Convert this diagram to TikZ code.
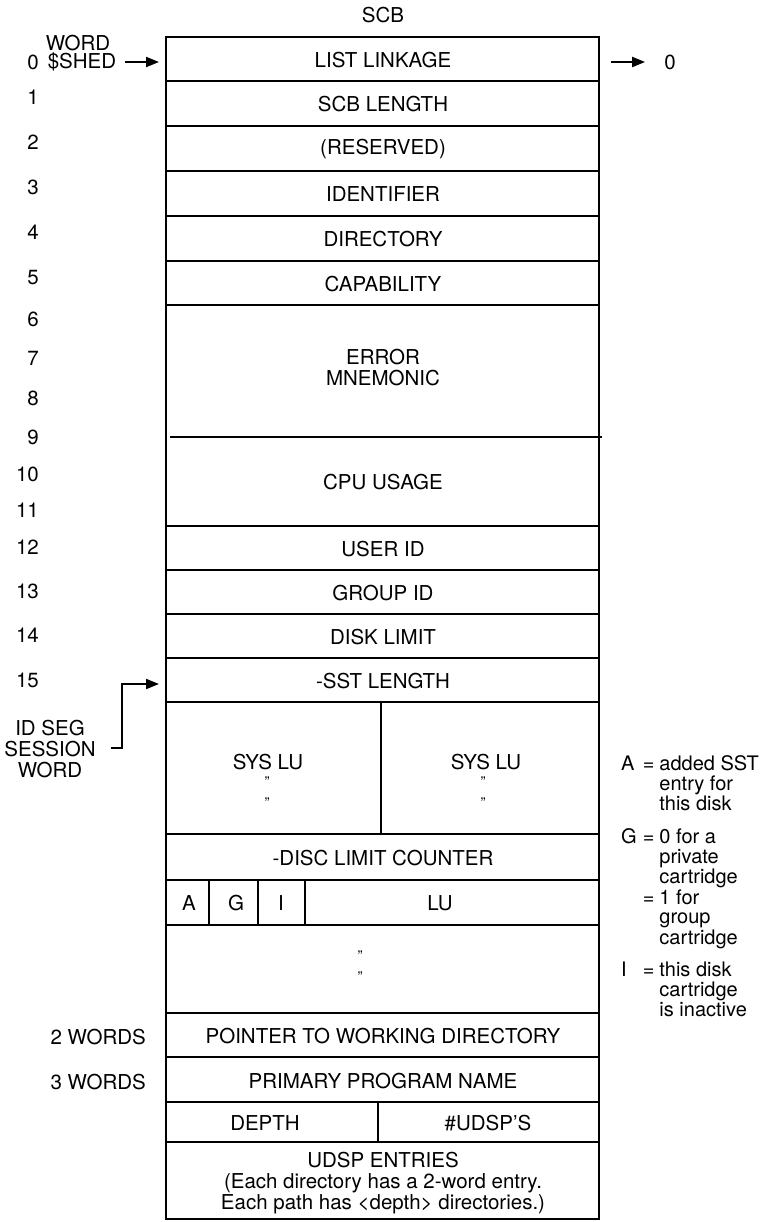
\documentclass[tikz,border=0pt]{standalone}
\usepackage{fontspec}
\setmainfont{TeX Gyre Heros}
\usetikzlibrary{arrows.meta}
\begin{document}
\begin{tikzpicture}[x=1pt,y=-1pt,
  txt/.style={inner sep=0pt,font=\fontsize{20.5}{21}\selectfont},
  multi/.style={txt,align=center},
  ditto/.style={inner sep=0pt,font=\fontsize{15}{15}\selectfont},
  frame/.style={line width=2.1pt},
  sep/.style={line width=2pt},
  arr/.style={line width=2pt,-{Triangle[length=13pt,width=10pt]}}]
\useasboundingbox (0,0) rectangle (766,1222);

% outer frame and separators
\draw[frame] (166,37) rectangle (599,1219);
\foreach \y in {81,126,171,216,261,305,526,570,614,658,702,834,880,925,1013,1057,1102,1142}
  \draw[sep] (166,\y) -- (599,\y);
\draw[sep] (170,437) -- (602,437);
\draw[sep] (381,702) -- (381,834);
\foreach \x in {209,258,305} \draw[sep] (\x,880) -- (\x,925);
\draw[sep] (378,1102) -- (378,1142);

% title
\node[txt] (scb) at (383,15) {SCB};

% field texts
\node[txt] (ll) at (383,60) {LIST LINKAGE};
\node[txt] (len) at (383,104) {SCB LENGTH};
\node[txt] (res) at (383,149) {(RESERVED)};
\node[txt] (ident) at (383,194) {IDENTIFIER};
\node[txt] (dir) at (383,239) {DIRECTORY};
\node[txt] (cap) at (383,284) {CAPABILITY};
\node[multi] (err) at (383,368) {ERROR\\MNEMONIC};
\node[txt] (cpu) at (383,482) {CPU USAGE};
\node[txt] (uid) at (383,549) {USER ID};
\node[txt] (gid) at (383,593) {GROUP ID};
\node[txt] (dlim) at (383,637) {DISK LIMIT};
\node[txt] (sst) at (383,681) {-SST LENGTH};
\node[txt] (sysl) at (268,762) {SYS LU};
\node[ditto] (sysld1) at (267,782) {”};
\node[ditto] (sysld2) at (267,803) {”};
\node[txt] (sysr) at (486,762) {SYS LU};
\node[ditto] (sysrd1) at (483,782) {”};
\node[ditto] (sysrd2) at (483,803) {”};
\node[txt] (dlc) at (383,858) {-DISC LIMIT COUNTER};
\node[txt] (fa) at (189,903) {A};
\node[txt] (fg) at (236,903) {G};
\node[txt] (fi) at (281,903) {I};
\node[txt] (lu) at (440,903) {LU};
\node[ditto] (lud1) at (360,956) {”};
\node[ditto] (lud2) at (360,977) {”};
\node[txt] (ptr) at (383,1036) {POINTER TO WORKING DIRECTORY};
\node[txt] (ppn) at (383,1081) {PRIMARY PROGRAM NAME};
\node[txt] (depth) at (265,1123) {DEPTH};
\node[txt] (udsps) at (488,1123) {\#UDSP’S};
\node[multi] (udsp) at (383,1183) {UDSP ENTRIES\\(Each directory has a 2-word entry.\\Each path has <depth> directories.)};

% left word numbers
\node[txt] (word) at (78,43) {WORD};
\node[txt,anchor=east] (w0) at (39,62) {0};
\node[txt] (shed) at (82,62) {\$SHED};
\foreach \n/\y in {1/97,2/142,3/187,4/232,5/278,6/319,7/358,8/398,9/437,10/474,11/510,12/547,13/591,14/635,15/680}
  \node[txt,anchor=east] (w\n) at (39,\y) {\n};
\node[txt,anchor=east] (two) at (146,1037) {2 WORDS};
\node[txt,anchor=east] (three) at (146,1082) {3 WORDS};

% right zero
\node[txt] (zero) at (670,62) {0};

% ID SEG label
\node[multi] (idseg) at (50,749) {ID SEG\\SESSION\\WORD};

% connectors
\coordinate (shedin) at (159,62);
\draw[arr] ([xshift=9pt]shed.east) -- (shedin);
\coordinate (llout) at (611,62);
\draw[arr] (llout) -- ([xshift=-19pt]zero.west);
\coordinate (idsegout) at (111,748);
\coordinate (sstin) at (159,684);
\draw[arr] (idsegout) -- (122,748) |- (sstin);

% legend
\node[inner sep=0pt,anchor=north west,font=\fontsize{20}{19.3}\selectfont] (legend) at (621,755) {%
\begin{tabular}{@{}l@{\hspace{6pt}}l@{\hspace{5pt}}l@{}}
A & = & added SST\\
  &   & entry for\\
  &   & this disk\\[12pt]
G & = & 0 for a\\
  &   & private\\
  &   & cartridge\\
  & = & 1 for\\
  &   & group\\
  &   & cartridge\\[12pt]
I & = & this disk\\
  &   & cartridge\\
  &   & is inactive
\end{tabular}};
\end{tikzpicture}
\end{document}
